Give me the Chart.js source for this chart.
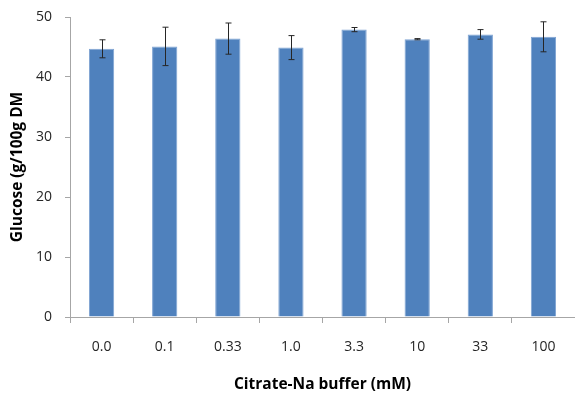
<!DOCTYPE html>
<html>
<head>
<meta charset="utf-8">
<script src="https://cdn.jsdelivr.net/npm/chart.js@4"></script>
<style>
html,body{margin:0;padding:0;background:#fff;}
#wrap{width:575px;height:393px;position:relative;}
</style>
</head>
<body>
<div id="wrap"><canvas id="c" width="575" height="393"></canvas></div>
<script>
const categories = ["0.0", "0.1", "0.33", "1.0", "3.3", "10", "33", "100"];
const glucose = [44.7, 45.1, 46.4, 44.9, 47.9, 46.3, 47.1, 46.7];
const glucoseErr = [1.5, 3.2, 2.6, 2.0, 0.35, 0.1, 0.8, 2.5];
const yTicks = [0, 10, 20, 30, 40, 50];

const FONT = "'Open Sans', 'Noto Sans', sans-serif";
const AXIS = "#a6a6a6";

const errorBars = {
  id: 'errorBars',
  afterDatasetsDraw(chart) {
    const ctx = chart.ctx;
    const meta = chart.getDatasetMeta(0);
    const ys = chart.scales.y;
    ctx.save();
    ctx.strokeStyle = '#262626';
    ctx.lineWidth = 1;
    meta.data.forEach((bar, i) => {
      const x = Math.round(bar.x) + 0.5;
      const top = ys.getPixelForValue(glucose[i] + glucoseErr[i]);
      const bot = ys.getPixelForValue(glucose[i] - glucoseErr[i]);
      ctx.beginPath();
      ctx.moveTo(x, top); ctx.lineTo(x, bot);
      ctx.moveTo(x - 3, top); ctx.lineTo(x + 3, top);
      ctx.moveTo(x - 3, bot); ctx.lineTo(x + 3, bot);
      ctx.stroke();
    });
    ctx.restore();
  }
};

new Chart(document.getElementById('c'), {
  type: 'bar',
  data: {
    labels: categories,
    datasets: [{
      data: glucose,
      backgroundColor: '#4f81bd',
      borderColor: '#7fa4d3',
      borderWidth: 1,
      barPercentage: 0.4,
      categoryPercentage: 1.0
    }]
  },
  options: {
    responsive: false,
    animation: false,
    devicePixelRatio: 1,
    layout: { padding: { top: 17, right: 0, bottom: 0, left: 0 } },
    plugins: { legend: { display: false }, tooltip: { enabled: false } },
    scales: {
      x: {
        afterFit(s) { s.height = 76; },
        grid: { drawOnChartArea: false, drawTicks: true, tickLength: 6, color: AXIS, offset: true },
        border: { display: true, color: AXIS, width: 1 },
        ticks: { color: '#262626', font: { family: FONT, size: 14 }, padding: 16, maxRotation: 0 },
        title: { display: true, text: 'Citrate-Na buffer (mM)', color: '#000', font: { family: FONT, size: 15.5, weight: 'bold' }, padding: { top: 0, bottom: -1 } }
      },
      y: {
        min: 0, max: 50,
        afterFit(s) { s.width = 70; s.paddingTop = 17; s.paddingBottom = 0; },
        afterBuildTicks(s) { s.ticks = yTicks.map(v => ({ value: v })); },
        grid: { drawOnChartArea: false, drawTicks: true, tickLength: 5, color: AXIS },
        border: { display: true, color: AXIS, width: 1 },
        ticks: { color: '#262626', font: { family: FONT, size: 14 }, padding: 13 },
        title: { display: true, text: 'Glucose (g/100g DM', color: '#000', font: { family: FONT, size: 15.5, weight: 'bold' }, padding: { top: 8, bottom: 2 } }
      }
    }
  },
  plugins: [errorBars]
});
</script>
</body>
</html>
